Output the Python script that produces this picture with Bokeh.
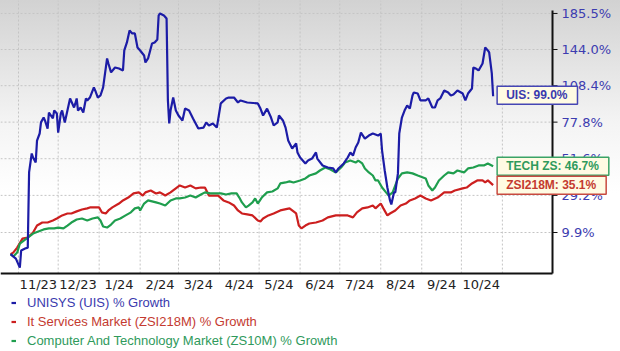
from datetime import datetime
import pandas as pd
from bokeh.plotting import figure
from bokeh.models import Range1d, Legend, LegendItem, Label
from bokeh.core.properties import value
from bokeh.embed import file_html
from bokeh.resources import INLINE

# ---------------- data (percent growth) ----------------
uis_dates = ["2023-10-26","2023-10-30","2023-11-02","2023-11-03","2023-11-06","2023-11-08","2023-11-09","2023-11-11","2023-11-12","2023-11-14",
             "2023-11-15","2023-11-17","2023-11-18","2023-11-20","2023-11-21","2023-11-23","2023-11-24","2023-11-27","2023-11-28","2023-11-30",
             "2023-12-01","2023-12-03","2023-12-04","2023-12-06","2023-12-08","2023-12-10","2023-12-13","2023-12-14","2023-12-15","2023-12-16",
             "2023-12-18","2023-12-20","2023-12-22","2023-12-23","2023-12-25","2023-12-28","2023-12-29","2023-12-31","2024-01-02","2024-01-04",
             "2024-01-07","2024-01-08","2024-01-10","2024-01-13","2024-01-16","2024-01-19","2024-01-20","2024-01-22","2024-01-24","2024-01-26",
             "2024-01-28","2024-01-30","2024-02-01","2024-02-04","2024-02-05","2024-02-07","2024-02-10","2024-02-12","2024-02-14","2024-02-15",
             "2024-02-16","2024-02-19","2024-02-21","2024-02-22","2024-02-23","2024-02-24","2024-02-26","2024-02-28","2024-03-01","2024-03-04",
             "2024-03-06","2024-03-09","2024-03-12","2024-03-14","2024-03-16","2024-03-20","2024-03-22","2024-03-24","2024-03-27","2024-03-30",
             "2024-04-02","2024-04-06","2024-04-08","2024-04-12","2024-04-15","2024-04-17","2024-04-22","2024-04-30","2024-05-02","2024-05-04",
             "2024-05-07","2024-05-10","2024-05-12","2024-05-15","2024-05-16","2024-05-19","2024-05-21","2024-05-23","2024-05-26","2024-05-29",
             "2024-05-30","2024-06-01","2024-06-05","2024-06-07","2024-06-10","2024-06-13","2024-06-14","2024-06-18","2024-06-22","2024-06-26",
             "2024-06-28","2024-06-30","2024-07-04","2024-07-07","2024-07-09","2024-07-11","2024-07-13","2024-07-15","2024-07-17","2024-07-20",
             "2024-07-23","2024-07-26","2024-07-30","2024-08-01","2024-08-02","2024-08-04","2024-08-06","2024-08-08","2024-08-09","2024-08-11",
             "2024-08-12","2024-08-14","2024-08-15","2024-08-17","2024-08-19","2024-08-21","2024-08-23","2024-08-25","2024-08-26","2024-08-29",
             "2024-08-31","2024-09-04","2024-09-06","2024-09-09","2024-09-11","2024-09-13","2024-09-15","2024-09-18","2024-09-21","2024-09-23",
             "2024-09-25","2024-09-28","2024-10-02","2024-10-04","2024-10-06","2024-10-09","2024-10-10","2024-10-12","2024-10-14","2024-10-17",
             "2024-10-19","2024-10-21","2024-10-22","2024-10-24","2024-10-25"]
uis_pct = [0.0,-1.9,-5.7,1.6,2.5,2.9,42.8,55.1,52.4,49.1,
           64.1,69.2,77.6,81.4,79.1,72.9,85.4,80.7,87.0,84.6,
           69.9,84.6,87.0,77.6,87.0,97.1,89.5,92.9,97.1,87.0,
           89.5,85.4,97.1,95.4,97.9,106.8,104.1,97.9,99.7,106.8,
           134.7,129.6,120.8,125.6,124.6,122.7,143.0,151.6,165.1,161.7,
           161.7,146.1,143.0,137.7,130.6,134.7,150.5,151.6,154.9,183.0,
           185.5,183.0,179.3,95.4,76.8,87.0,97.9,87.0,83.0,79.1,
           88.6,87.0,80.7,76.8,72.9,73.6,77.6,75.2,76.8,73.6,
           92.9,97.1,97.9,97.9,93.7,95.4,93.7,92.9,88.6,83.0,
           88.6,81.4,75.2,77.6,83.0,79.1,73.6,64.1,58.5,62.0,
           55.8,52.4,48.5,50.4,51.7,55.8,51.7,47.2,45.9,45.3,
           42.8,45.3,48.5,52.4,55.8,53.7,59.2,62.7,69.9,65.5,
           67.7,69.2,67.7,69.2,57.1,44.0,33.7,26.4,24.2,30.9,
           30.9,42.2,69.2,81.4,87.0,91.2,88.6,99.7,102.3,101.4,
           95.4,95.4,97.1,89.5,89.5,95.4,97.1,104.1,102.3,99.7,
           100.6,104.1,101.4,95.4,101.4,105.9,125.6,124.6,122.7,129.6,
           146.1,143.0,140.9,119.8,99.0]

its_dates = ["2023-10-26","2023-10-28","2023-10-31","2023-11-04","2023-11-08","2023-11-12","2023-11-15","2023-11-19","2023-11-23","2023-11-27",
             "2023-11-30","2023-12-04","2023-12-08","2023-12-11","2023-12-15","2023-12-19","2023-12-23","2023-12-25","2023-12-29","2024-01-01",
             "2024-01-03","2024-01-06","2024-01-08","2024-01-11","2024-01-16","2024-01-19","2024-01-23","2024-01-27","2024-01-31","2024-02-03",
             "2024-02-05","2024-02-09","2024-02-13","2024-02-16","2024-02-20","2024-02-24","2024-02-28","2024-03-02","2024-03-06","2024-03-10",
             "2024-03-14","2024-03-18","2024-03-21","2024-03-24","2024-03-27","2024-03-31","2024-04-04","2024-04-08","2024-04-12","2024-04-15",
             "2024-04-18","2024-04-22","2024-04-26","2024-04-30","2024-05-02","2024-05-04","2024-05-08","2024-05-12","2024-05-17","2024-05-24",
             "2024-05-29","2024-05-31","2024-06-02","2024-06-05","2024-06-08","2024-06-13","2024-06-18","2024-06-22","2024-06-28","2024-07-02",
             "2024-07-07","2024-07-11","2024-07-14","2024-07-18","2024-07-22","2024-07-26","2024-07-28","2024-08-01","2024-08-03","2024-08-06",
             "2024-08-08","2024-08-12","2024-08-16","2024-08-20","2024-08-23","2024-08-27","2024-08-31","2024-09-04","2024-09-08","2024-09-13",
             "2024-09-18","2024-09-23","2024-09-26","2024-10-02","2024-10-05","2024-10-09","2024-10-13","2024-10-17","2024-10-19","2024-10-21",
             "2024-10-25"]
its_pct = [0.0,0.7,2.9,7.0,7.5,9.9,13.3,14.8,14.8,15.8,
           16.8,18.4,19.4,19.4,20.5,21.5,22.1,22.6,22.6,22.6,
           20.0,19.4,21.0,22.6,24.7,26.4,28.0,30.3,30.9,29.1,
           30.9,32.0,30.3,30.9,29.1,30.9,33.2,34.9,33.7,34.9,
           33.2,33.7,33.7,29.1,29.1,29.1,26.4,25.3,23.6,21.0,
           19.4,18.9,18.4,15.8,15.3,16.8,18.4,19.4,21.0,22.1,
           19.4,13.3,11.9,13.3,14.3,14.8,15.8,17.4,18.4,18.4,
           18.4,17.4,20.0,22.1,22.6,23.6,22.1,24.7,22.1,18.4,
           19.4,21.0,23.6,24.7,26.4,27.5,29.1,27.5,26.4,28.0,
           30.9,30.9,32.0,33.2,33.7,36.1,37.9,37.9,36.7,37.9,
           35.1]

tech_dates = ["2023-10-26","2023-10-28","2023-10-31","2023-11-02","2023-11-05","2023-11-09","2023-11-12","2023-11-16","2023-11-20","2023-11-24",
              "2023-11-28","2023-12-01","2023-12-05","2023-12-08","2023-12-11","2023-12-15","2023-12-19","2023-12-23","2023-12-27","2023-12-31",
              "2024-01-02","2024-01-04","2024-01-07","2024-01-10","2024-01-13","2024-01-17","2024-01-21","2024-01-25","2024-01-28","2024-01-31",
              "2024-02-01","2024-02-04","2024-02-07","2024-02-13","2024-02-16","2024-02-20","2024-02-24","2024-02-28","2024-03-02","2024-03-06",
              "2024-03-10","2024-03-14","2024-03-18","2024-03-21","2024-03-25","2024-03-29","2024-04-02","2024-04-06","2024-04-10","2024-04-14",
              "2024-04-16","2024-04-18","2024-04-21","2024-04-23","2024-04-26","2024-04-28","2024-04-30","2024-05-03","2024-05-07","2024-05-11",
              "2024-05-15","2024-05-17","2024-05-21","2024-05-24","2024-05-27","2024-06-01","2024-06-05","2024-06-08","2024-06-13","2024-06-16",
              "2024-06-20","2024-06-24","2024-06-28","2024-07-02","2024-07-05","2024-07-09","2024-07-13","2024-07-15","2024-07-18","2024-07-20",
              "2024-07-23","2024-07-26","2024-07-28","2024-07-30","2024-08-02","2024-08-05","2024-08-07","2024-08-10","2024-08-12","2024-08-14",
              "2024-08-17","2024-08-21","2024-08-25","2024-08-29","2024-09-02","2024-09-04","2024-09-06","2024-09-09","2024-09-11","2024-09-14",
              "2024-09-18","2024-09-21","2024-09-25","2024-09-28","2024-10-03","2024-10-06","2024-10-10","2024-10-14","2024-10-18","2024-10-21",
              "2024-10-25"]
tech_pct = [0.0,-1.0,0.7,4.7,6.1,7.9,9.4,10.4,11.4,11.9,
            11.9,12.3,11.9,13.3,14.8,16.3,16.8,15.8,16.8,17.4,
            15.8,12.8,12.3,13.8,15.8,16.8,18.4,20.0,22.1,22.6,
            21.0,24.7,26.4,25.3,24.7,23.6,26.4,27.5,27.5,28.0,
            29.1,28.0,29.7,30.9,30.3,30.3,30.3,29.7,30.3,30.3,
            28.0,25.3,22.6,23.6,25.3,27.5,24.7,28.0,30.9,31.4,
            33.2,36.1,36.7,37.3,36.7,37.9,39.1,40.9,42.2,44.0,
            45.9,44.6,42.8,45.9,49.1,50.4,49.1,50.4,48.5,45.3,
            42.8,40.9,37.9,37.9,33.7,30.9,29.1,30.9,34.9,39.1,
            42.2,42.8,42.2,40.9,39.7,39.1,34.9,32.0,33.7,37.9,
            40.9,42.8,42.2,44.0,42.8,45.3,45.9,47.2,47.2,48.5,
            46.7]

series_names = ["UNISYS (UIS) % Growth",
                "It Services Market (ZSI218M) % Growth",
                "Computer And Technology Market (ZS10M) % Growth"]
end_tags = ["UIS", "ZSI218M", "TECH ZS"]

y_tick_pct = [9.9, 29.2, 51.6, 77.8, 108.4, 144.0, 185.5]
month_starts = ["2023-11-01","2023-12-01","2024-01-01","2024-02-01","2024-03-01","2024-04-01","2024-05-01",
                "2024-06-01","2024-07-01","2024-08-01","2024-09-01","2024-10-01","2024-11-01"]
month_label_dates = ["2023-11-16","2023-12-16","2024-01-16","2024-02-16","2024-03-16","2024-04-16",
                     "2024-05-16","2024-06-16","2024-07-16","2024-08-16","2024-09-16","2024-10-16"]
month_labels = ["11/23","12/23","1/24","2/24","3/24","4/24","5/24","6/24","7/24","8/24","9/24","10/24"]

# ---------------- layout / styling ----------------
C_UIS, C_ITS, C_TECH = "#1c1ca6", "#cc1f1f", "#1f9e4e"
T_UIS, T_ITS, T_TECH = "#3a3aae", "#c43a30", "#2f9a5c"
X_START = datetime(2023, 10, 18, 9)
X_END = datetime(2025, 1, 29, 8, 17)
AXIS_X = datetime(2024, 12, 8, 22)        # position of the value axis
Y_BOTTOM, Y_AXIS, Y_AXIS_TOP, Y_TOP = 0.6543, 0.919, 2.892, 3.021
AXIS_COLOR = "#111111"
GRID_COLOR = "#c4c4c4"

def ratio(v):
    return [1 + x / 100.0 for x in v]

p = figure(width=620, height=351, x_axis_type="datetime", y_axis_type="log",
           x_axis_location=None, y_axis_location=None,
           toolbar_location=None, output_backend="svg",
           x_range=Range1d(X_START, X_END), y_range=Range1d(Y_BOTTOM, Y_TOP),
           min_border=0)
p.outline_line_color = None
p.background_fill_alpha = 0
p.border_fill_alpha = 0
p.grid.visible = False
p.styles = {"background": "linear-gradient(180deg, #d2d2d2 0%, #f4f4f4 35%, #ffffff 55%)"}

yt = ratio(y_tick_pct)
ylabels = [f"{v:.1f}%" for v in y_tick_pct]
ms_x = pd.to_datetime(month_starts)

# grid lines
p.segment(x0=[X_START] * len(yt), y0=yt, x1=[AXIS_X] * len(yt), y1=yt,
          line_color=GRID_COLOR, line_dash="2 2", line_width=1)
p.segment(x0=ms_x, y0=[Y_AXIS] * len(ms_x), x1=ms_x, y1=[Y_TOP] * len(ms_x),
          line_color=GRID_COLOR, line_dash="2 2", line_width=1)

# series
r_its = p.line(pd.to_datetime(its_dates), ratio(its_pct), line_color=C_ITS, line_width=2.2)
r_tech = p.line(pd.to_datetime(tech_dates), ratio(tech_pct), line_color=C_TECH, line_width=2.2)
r_uis = p.line(pd.to_datetime(uis_dates), ratio(uis_pct), line_color=C_UIS, line_width=2.2)

# time axis
p.segment(x0=[X_START], y0=[Y_AXIS], x1=[AXIS_X], y1=[Y_AXIS], line_color=AXIS_COLOR, line_width=2)
p.text(x=pd.to_datetime(month_label_dates), y=[Y_AXIS] * len(month_labels), text=month_labels,
       y_offset=3, text_baseline="top", text_align="center", text_font=value("DejaVu Sans"),
       text_font_size="13px", text_color="#222222")

# value axis
p.segment(x0=[AXIS_X], y0=[Y_AXIS], x1=[AXIS_X], y1=[Y_AXIS_TOP], line_color=AXIS_COLOR, line_width=2)
p.ray(x=[AXIS_X] * len(yt), y=yt, length=5, length_units="screen", angle=0,
      line_color=AXIS_COLOR, line_width=1)
p.text(x=[AXIS_X] * len(yt), y=yt, text=ylabels, x_offset=9,
       text_baseline="middle", text_align="left", text_font=value("DejaVu Sans"),
       text_font_size="13px", text_color="#3c3cb0")

# legend rows under the time axis
for r, name, col, vy in [(r_uis, series_names[0], T_UIS, 39),
                         (r_its, series_names[1], T_ITS, 20),
                         (r_tech, series_names[2], T_TECH, 1)]:
    lg = Legend(items=[LegendItem(label=name, renderers=[r])],
                location=(11, vy), margin=0, padding=0, spacing=0,
                glyph_width=5, glyph_height=19, label_height=19, label_standoff=11,
                label_text_font="Liberation Sans", label_text_font_size="13px",
                label_text_color=col, background_fill_alpha=0, border_line_color=None)
    p.add_layout(lg)

# end-value tags
for dates, vals, tag, col, tcol, yoff in [(uis_dates, uis_pct, end_tags[0], "#4646b4", T_UIS, 1),
                                          (tech_dates, tech_pct, end_tags[2], "#3aa366", T_TECH, 0),
                                          (its_dates, its_pct, end_tags[1], "#c84a40", T_ITS, 0)]:
    lab = Label(x=pd.Timestamp(dates[-1]).to_pydatetime(), y=1 + vals[-1] / 100.0,
                text=f"{tag}: {vals[-1]:.1f}%", x_offset=4, y_offset=yoff,
                text_baseline="middle", text_align="left",
                text_font="Liberation Sans", text_font_style="bold", text_font_size="12px",
                text_color=tcol, background_fill_color="#fffbe3",
                border_line_color=col, border_line_width=1.5,
                padding=(9, 10, 2, 2))
    p.add_layout(lab)

open("out.html", "w").write(file_html(p, INLINE))
